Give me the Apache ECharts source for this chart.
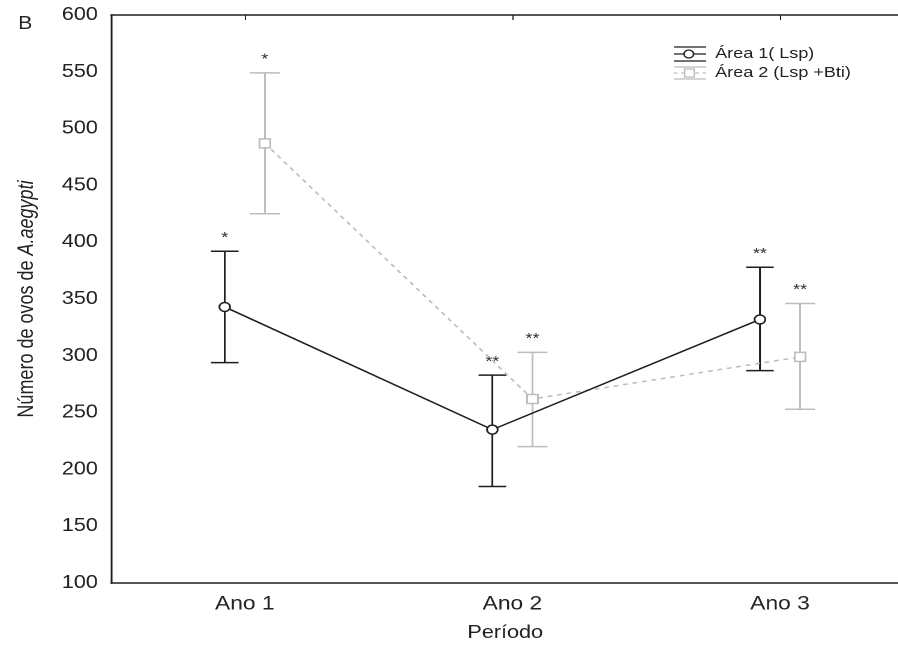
<!DOCTYPE html>
<html>
<head>
<meta charset="utf-8">
<script src="https://cdn.jsdelivr.net/npm/echarts@6/dist/echarts.min.js"></script>
<style>
  html, body { margin: 0; padding: 0; background: #fff; overflow: hidden; }
  #wrap { width: 898px; height: 645px; overflow: hidden; }
  /* the figure is drawn in a narrower box and widened horizontally */
  #chart { width: 748px; height: 645px; transform: scaleX(1.2); transform-origin: 0 0; }
</style>
</head>
<body>
<div id="wrap"><div id="chart"></div></div>
<script>
// Egg counts per period, mean with upper/lower interval limits
const categories = ['Ano 1', 'Ano 2', 'Ano 3'];

const area1Mean  = [343, 235, 332];
const area1Upper = [392, 283, 378];
const area1Lower = [294, 185, 287];
const area1Marks = ['*', '**', '**'];

const area2Mean  = [487, 262, 299];
const area2Upper = [549, 303, 346];
const area2Lower = [425, 220, 253];
const area2Marks = ['*', '**', '**'];

const yMin = 100, yMax = 600, yStep = 50;

const FONT = 'Liberation Sans, Arial, sans-serif';
const DARK = '#1e1e1e';
const LIGHT = '#bdbdbd';
const SHIFT = 0.075;   // horizontal dodge of the two groups around each period

const chart = echarts.init(document.getElementById('chart'), null, { renderer: 'canvas', devicePixelRatio: 2 });

function errorBars(lower, upper, marks, color, capHalf, dx) {
  return {
    type: 'custom',
    xAxisIndex: 1,
    z: 2,
    clip: false,
    data: lower.map((lo, i) => [i + 1 + dx, lo, upper[i]]),
    renderItem: function (params, api) {
      const x = api.value(0);
      const top = api.coord([x, api.value(2)]);
      const bot = api.coord([x, api.value(1)]);
      const st = { stroke: color, lineWidth: 1.5 };
      return {
        type: 'group',
        children: [
          { type: 'line', shape: { x1: top[0], y1: top[1], x2: bot[0], y2: bot[1] }, style: st },
          { type: 'line', shape: { x1: top[0] - capHalf, y1: top[1], x2: top[0] + capHalf, y2: top[1] }, style: st },
          { type: 'line', shape: { x1: bot[0] - capHalf, y1: bot[1], x2: bot[0] + capHalf, y2: bot[1] }, style: st },
          { type: 'text', x: top[0], y: top[1] - 6,
            style: { text: marks[params.dataIndex], fill: '#333', font: '15px ' + FONT,
                     align: 'center', verticalAlign: 'bottom' } }
        ]
      };
    }
  };
}

const option = {
  backgroundColor: '#fff',
  animation: false,
  textStyle: { fontFamily: FONT },
  grid: { left: 92.5, top: 15, width: 669, height: 568, outerBoundsMode: 'none' },
  xAxis: [
    {
      type: 'category', data: categories, position: 'bottom', boundaryGap: true,
      axisLine: { lineStyle: { color: DARK, width: 1.5 } },
      axisTick: { show: false },
      axisLabel: { fontSize: 19, color: '#222', margin: 12, fontFamily: FONT }
    },
    { type: 'value', min: 0.5, max: 3.5, show: false },
    {
      type: 'category', data: categories, position: 'top', boundaryGap: true,
      axisLine: { lineStyle: { color: DARK, width: 1.5 } },
      axisTick: { show: true, inside: true, length: 5, alignWithLabel: true, lineStyle: { color: DARK } },
      axisLabel: { show: false }
    }
  ],
  yAxis: {
    type: 'value', min: yMin, max: yMax, interval: yStep,
    axisLine: { show: true, lineStyle: { color: DARK, width: 1.5 } },
    axisTick: { show: false },
    splitLine: { show: false },
    axisLabel: { fontSize: 18, color: '#222', margin: 11, fontFamily: FONT },
    name: 'Número de ovos de {i|A.aegypti}',
    nameLocation: 'middle',
    nameGap: 61,
    nameTextStyle: {
      fontSize: 18, color: '#222', fontFamily: FONT,
      rich: { i: { fontStyle: 'italic', fontSize: 18, color: '#222', fontFamily: FONT } }
    }
  },
  series: [
    errorBars(area2Lower, area2Upper, area2Marks, LIGHT, 12.5, SHIFT),
    errorBars(area1Lower, area1Upper, area1Marks, DARK, 11.5, -SHIFT),
    {
      name: 'Área 2 (Lsp +Bti)', type: 'line', xAxisIndex: 1, z: 3,
      data: area2Mean.map((v, i) => [i + 1 + SHIFT, v]),
      symbol: 'rect', symbolSize: 9, showAllSymbol: true,
      lineStyle: { color: LIGHT, width: 1.5, type: [4, 4] },
      itemStyle: { color: '#fff', borderColor: LIGHT, borderWidth: 1.5 }
    },
    {
      name: 'Área 1( Lsp)', type: 'line', xAxisIndex: 1, z: 4,
      data: area1Mean.map((v, i) => [i + 1 - SHIFT, v]),
      symbol: 'circle', symbolSize: 9, showAllSymbol: true,
      lineStyle: { color: DARK, width: 1.5 },
      itemStyle: { color: '#fff', borderColor: DARK, borderWidth: 1.5 }
    }
  ],
  graphic: [
    { type: 'text', left: 15, top: 15, style: { text: 'B', font: '18px ' + FONT, fill: '#222' } },
    { type: 'text', x: 421, y: 633, style: { text: 'Período', font: '18px ' + FONT, fill: '#222',
        align: 'center', verticalAlign: 'middle' } },
    // legend: Área 1
    { type: 'group', x: 561.5, y: 54, children: [
      { type: 'line', shape: { x1: 0, y1: -7, x2: 27, y2: -7 }, style: { stroke: DARK, lineWidth: 1.3 } },
      { type: 'line', shape: { x1: 0, y1: 0, x2: 27, y2: 0 }, style: { stroke: DARK, lineWidth: 1.3 } },
      { type: 'line', shape: { x1: 0, y1: 7, x2: 27, y2: 7 }, style: { stroke: DARK, lineWidth: 1.3 } },
      { type: 'circle', shape: { cx: 12.5, cy: 0, r: 4 }, style: { fill: '#fff', stroke: DARK, lineWidth: 1.3 } },
      { type: 'text', x: 34.5, y: 0, style: { text: 'Área 1( Lsp)', font: '15px ' + FONT, fill: '#222', verticalAlign: 'middle' } }
    ] },
    // legend: Área 2
    { type: 'group', x: 561.5, y: 73, children: [
      { type: 'line', shape: { x1: 0, y1: -6, x2: 27, y2: -6 }, style: { stroke: LIGHT, lineWidth: 1.2 } },
      { type: 'line', shape: { x1: 0, y1: 0, x2: 27, y2: 0 }, style: { stroke: LIGHT, lineWidth: 1.2, lineDash: [3, 3] } },
      { type: 'line', shape: { x1: 0, y1: 6, x2: 27, y2: 6 }, style: { stroke: LIGHT, lineWidth: 1.2 } },
      { type: 'rect', shape: { x: 9, y: -4, width: 8, height: 8 }, style: { fill: '#fff', stroke: LIGHT, lineWidth: 1.2 } },
      { type: 'text', x: 34.5, y: 0, style: { text: 'Área 2 (Lsp +Bti)', font: '15px ' + FONT, fill: '#222', verticalAlign: 'middle' } }
    ] }
  ]
};

chart.setOption(option);
</script>
</body>
</html>
